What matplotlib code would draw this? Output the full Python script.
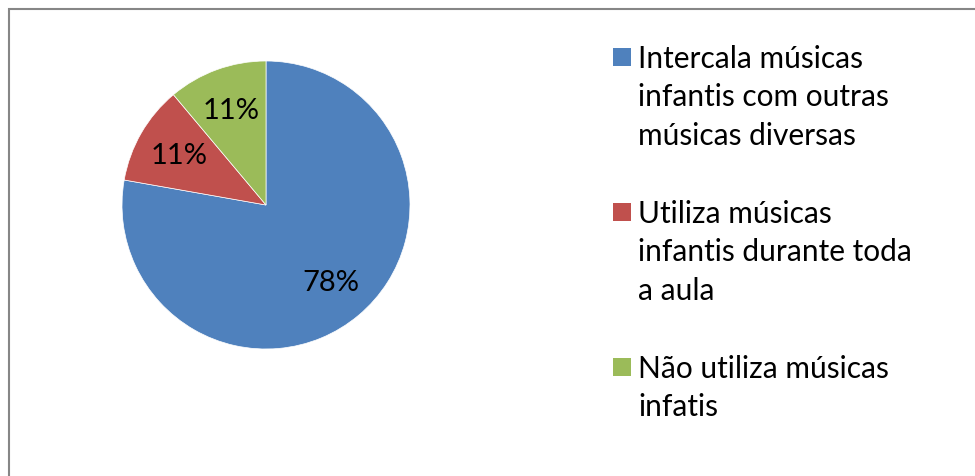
import matplotlib.pyplot as plt
from matplotlib.patches import Rectangle

plt.rcParams['font.family'] = ['Lato', 'DejaVu Sans']

labels = ['Intercala músicas\ninfantis com outras\nmúsicas diversas',
          'Utiliza músicas\ninfantis durante toda\na aula',
          'Não utiliza músicas\ninfatis']
values = [7, 1, 1]
colors = ['#4F81BD', '#C0504D', '#9BBB59']

W, H = 975, 477
fig = plt.figure(figsize=(W / 100, H / 100), dpi=100)

# frame around the chart area (runs off the right and bottom edges)
fig.patches.append(Rectangle((9 / W, -0.05), 1.1, 1 - 9 / H + 0.05 - 1 / H,
                             transform=fig.transFigure, fill=False,
                             edgecolor='#868686', linewidth=1.5))

# pie: centre (266, 206) px, radius 144 px
cx, cy, r = 266, 206, 144
ax = fig.add_axes([(cx - r) / W, (H - cy - r) / H, 2 * r / W, 2 * r / H])
ax.pie(values, colors=colors, startangle=90, counterclock=False,
       autopct=lambda p: '%.0f%%' % p, pctdistance=0.7,
       textprops={'fontsize': 21, 'color': 'black'},
       wedgeprops={'linewidth': 0.5, 'edgecolor': 'white'})
ax.set_xlim(-1, 1)
ax.set_ylim(-1, 1)
ax.set_aspect('equal')

# legend drawn by hand so the marker sits on the first line
x_box, x_txt = 613, 638
y0, group_h, line_h = 68, 155, 38.5
for i, (lab, col) in enumerate(zip(labels, colors)):
    base = y0 + i * group_h
    fig.patches.append(Rectangle((x_box / W, 1 - (base - 1) / H), 18 / W, 18 / H,
                                 transform=fig.transFigure, facecolor=col,
                                 edgecolor='none'))
    for j, line in enumerate(lab.split('\n')):
        fig.text(x_txt / W, 1 - (base + j * line_h) / H, line, fontsize=21.5,
                 ha='left', va='baseline', color='black')

fig.savefig('out.png', dpi=100)
